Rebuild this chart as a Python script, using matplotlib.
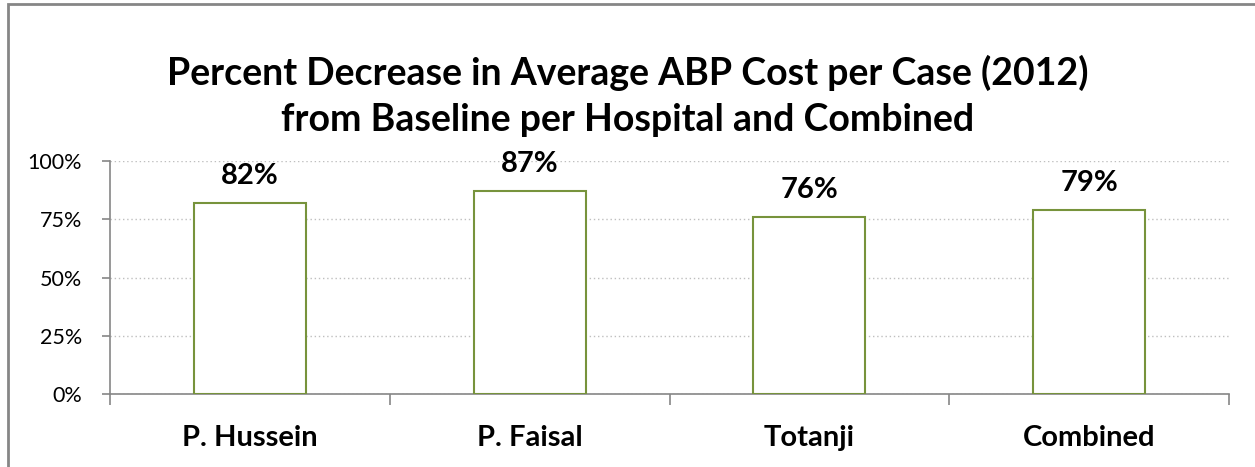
import matplotlib
matplotlib.use("Agg")
import matplotlib.pyplot as plt
from matplotlib.patches import Rectangle
from matplotlib.ticker import FixedLocator

# data
categories = ["P. Hussein", "P. Faisal", "Totanji", "Combined"]
decrease = [0.82, 0.87, 0.76, 0.79]
yticks = [0, 0.25, 0.5, 0.75, 1.0]
title = "Percent Decrease in Average ABP Cost per Case (2012)\nfrom Baseline per Hospital and Combined"

plt.rcParams["font.family"] = ["Lato", "DejaVu Sans"]

fig = plt.figure(figsize=(12.55, 4.67), dpi=100)
fig.patches.append(Rectangle((8 / 1255, -0.05), 1.1, 0.05 + 463 / 467,
                             transform=fig.transFigure, fill=False,
                             edgecolor="#868686", linewidth=2))

ax = fig.add_axes([110 / 1255, 1 - 394 / 467, 1119 / 1255, 233 / 467])
x = range(len(categories))
ax.bar(x, decrease, width=0.4, facecolor="white", edgecolor="#77933C", linewidth=1.5, zorder=3)

for xi, v in zip(x, decrease):
    ax.annotate("{:.0%}".format(v), (xi, v), xytext=(0, 10), textcoords="offset points",
                ha="center", va="bottom", fontsize=21, fontweight="bold")

ax.set_xlim(-0.5, len(categories) - 0.5)
ax.set_ylim(0, 1)
ax.set_yticks(yticks)
ax.set_yticklabels(["{:.0%}".format(t) for t in yticks], fontsize=15.5)
ax.set_xticks(list(x))
ax.set_xticklabels(categories, fontsize=21, fontweight="bold")
ax.tick_params(axis="x", which="major", length=0, pad=22)
ax.xaxis.set_minor_locator(FixedLocator([i + 0.5 for i in range(-1, len(categories))]))
ax.tick_params(axis="x", which="minor", length=8, color="#868686", width=1.2)
ax.tick_params(axis="y", length=6, color="#868686", width=1.2, pad=14)

ax.grid(axis="y", linestyle=(0, (1, 2)), color="#BFBFBF", linewidth=1, zorder=0)
for s in ["top", "right"]:
    ax.spines[s].set_visible(False)
for s in ["left", "bottom"]:
    ax.spines[s].set_color("#868686")
    ax.spines[s].set_linewidth(1.2)

fig.text(0.5, 1 - 96 / 467, title, ha="center", va="center", fontsize=27,
         fontweight="bold", linespacing=1.45)

fig.savefig("out.png", dpi=100)
